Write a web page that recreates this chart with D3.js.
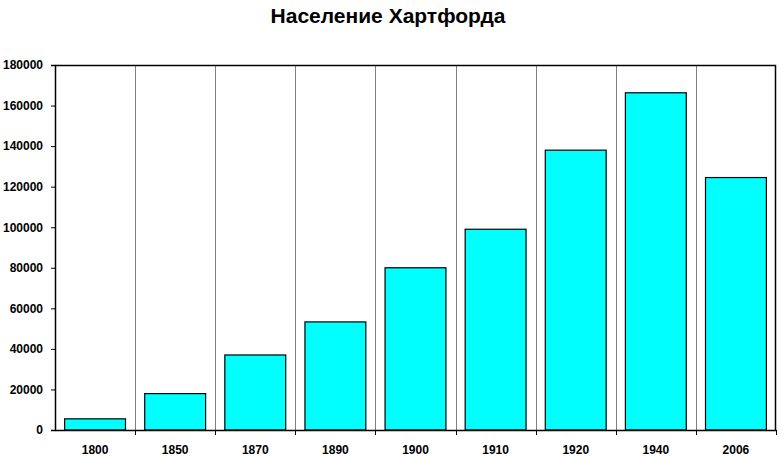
<!DOCTYPE html>
<html>
<head>
<meta charset="utf-8">
<script src="https://cdn.jsdelivr.net/npm/d3@7"></script>
<style>
  body { margin: 0; background: #fff; }
  text { font-family: "Liberation Sans", Arial, sans-serif; }
</style>
</head>
<body>
<div id="chart"></div>
<script>
// chart data
const years = ["1800", "1850", "1870", "1890", "1900", "1910", "1920", "1940", "2006"];
const population = [5500, 17950, 37000, 53300, 80000, 99000, 138000, 166300, 124500];
const yTicks = [0, 20000, 40000, 60000, 80000, 100000, 120000, 140000, 160000, 180000];
const title = "Население Хартфорда";

var margin = {top: 65, right: 8, bottom: 27, left: 55},
    width = 784 - margin.left - margin.right,
    height = 457 - margin.top - margin.bottom;

var root = d3.select("#chart")
  .append("svg")
    .attr("width", 784)
    .attr("height", 457);

root.append("text")
  .attr("x", 388)
  .attr("y", 23)
  .attr("text-anchor", "middle")
  .style("font-size", "21px")
  .style("font-weight", "bold")
  .text(title);

var svg = root.append("g")
  .attr("transform", "translate(" + margin.left + "," + margin.top + ")");

var x = d3.scaleBand()
  .domain(years)
  .range([0, width])
  .paddingInner(0.24)
  .paddingOuter(0.12);

var y = d3.scaleLinear()
  .domain([0, 180000])
  .range([height, 0]);

// vertical gridlines at category boundaries
var step = x.step();
var bounds = years.slice(1).map(function(d) { return x(d) - x.paddingInner() * step / 2; });
svg.selectAll("line.grid")
  .data(bounds)
  .enter()
  .append("line")
    .attr("class", "grid")
    .attr("x1", function(d) { return Math.round(d) + 0.5; })
    .attr("x2", function(d) { return Math.round(d) + 0.5; })
    .attr("y1", 0)
    .attr("y2", height)
    .attr("stroke", "#808080")
    .attr("stroke-width", 1);

// frame top / right
svg.append("path")
  .attr("d", "M0.5,0.5H" + (width - 0.5) + "V" + height)
  .attr("fill", "none")
  .attr("stroke", "#000")
  .attr("stroke-width", 1.5);

// bars
svg.selectAll("rect.bar")
  .data(years)
  .enter()
  .append("rect")
    .attr("class", "bar")
    .attr("x", function(d) { return x(d); })
    .attr("y", function(d, i) { return y(population[i]); })
    .attr("width", x.bandwidth())
    .attr("height", function(d, i) { return height - y(population[i]); })
    .attr("fill", "#00ffff")
    .attr("stroke", "#000")
    .attr("stroke-width", 1.2);

// Y axis
var yAxis = svg.append("g")
  .call(d3.axisLeft(y).tickValues(yTicks).tickFormat(d3.format("d")).tickSize(4).tickPadding(8));
yAxis.select(".domain").attr("stroke-width", 1.5);
yAxis.selectAll("text")
  .style("font-size", "12px")
  .style("font-weight", "bold")
  .attr("fill", "#000")
  .attr("font-family", null);

// X axis with ticks at category boundaries
var xAxis = svg.append("g")
  .attr("transform", "translate(0," + height + ")")
  .call(d3.axisBottom(x).tickSize(0).tickPadding(15));
xAxis.select(".domain").attr("stroke-width", 1.5);
xAxis.selectAll("text")
  .style("font-size", "12px")
  .style("font-weight", "bold")
  .attr("fill", "#000")
  .attr("font-family", null);
xAxis.selectAll("line.sep")
  .data(bounds.concat([width]))
  .enter()
  .append("line")
    .attr("class", "sep")
    .attr("x1", function(d) { return Math.round(d) + 0.5; })
    .attr("x2", function(d) { return Math.round(d) + 0.5; })
    .attr("y1", 0)
    .attr("y2", 5)
    .attr("stroke", "#000");
</script>
</body>
</html>
